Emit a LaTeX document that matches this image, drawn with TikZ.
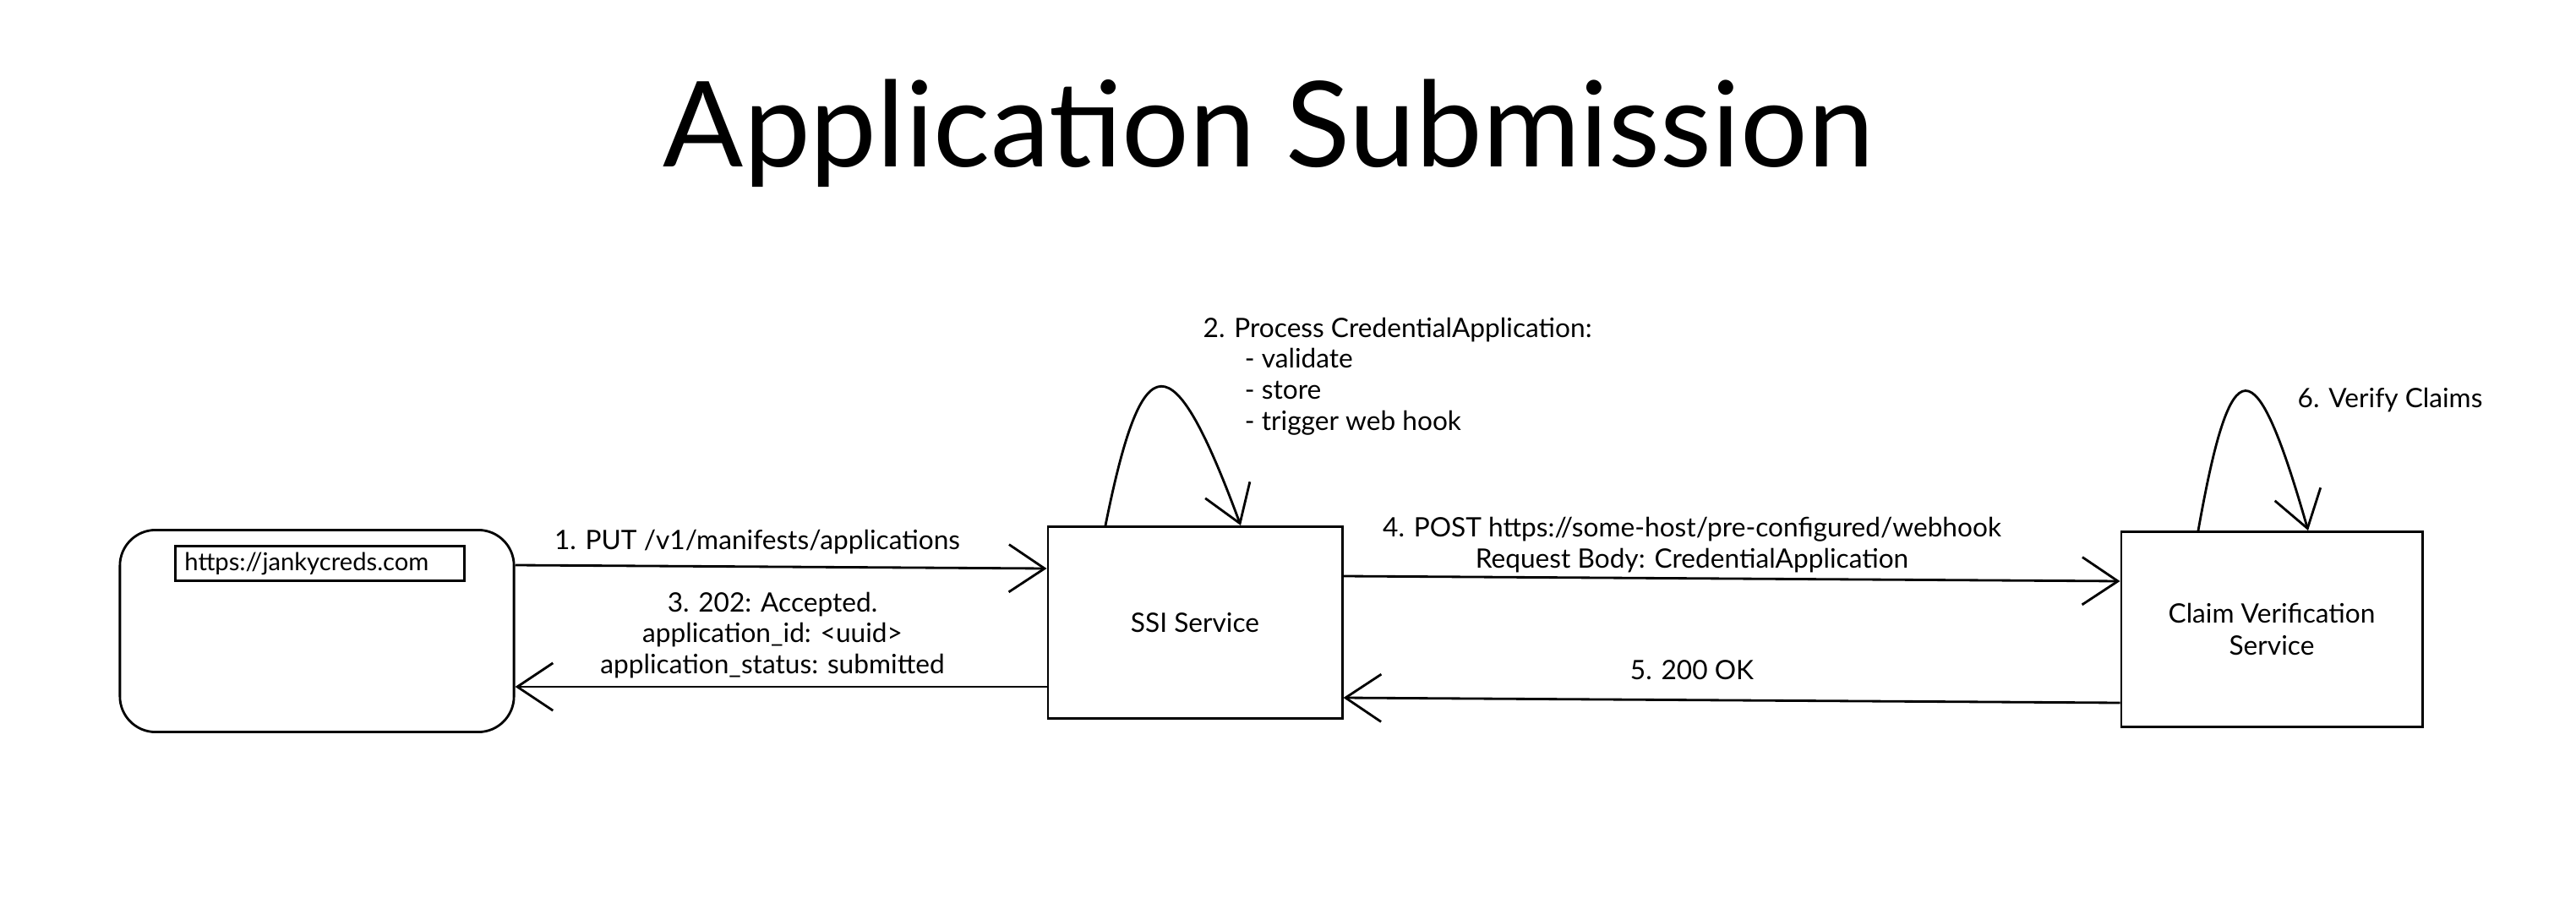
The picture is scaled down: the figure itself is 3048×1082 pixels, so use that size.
\documentclass[tikz,border=0pt]{standalone}
\usepackage{fontspec}
\setmainfont{Lato}
\usetikzlibrary{arrows.meta}
\begin{document}
\begin{tikzpicture}[x=0.01cm,y=-0.01cm,
  box/.style={draw, line width=0.8pt, inner sep=0pt, font=\fontsize{9}{11}\selectfont, align=center},
  conn/.style={draw, line width=0.8pt, -{Straight Barb[length=12pt,width=16pt,line width=0.8pt]}},
  lbl/.style={font=\fontsize{9}{10.5}\selectfont, align=center, inner sep=0pt}]
\useasboundingbox (0,0) rectangle (3048,1082);
\fill[white] (0,0) rectangle (3048,1082);
% title
\node[inner sep=0pt, font=\fontsize{40}{46}\selectfont] (title) at (1501,158) {Application Submission};
% nodes
\node[box, rounded corners=12pt, minimum width=4.66cm, minimum height=2.39cm] (br) at (375,747) {};
\node[box, anchor=west, minimum width=3.42cm, minimum height=0.41cm, text width=3.2cm, align=left, font=\fontsize{8.3}{9}\selectfont] (url) at (206,667) {https://jankycreds.com};
\node[box, minimum width=3.48cm, minimum height=2.27cm] (ssi) at (1414,737) {SSI Service};
\node[box, minimum width=3.56cm, minimum height=2.31cm] (cv) at (2688,745) {Claim Verification\\Service};
% connectors
\draw[conn] (br.east |- 0,669) -- (ssi.west |- 0,673);
\draw[conn] (ssi.west |- 0,813) -- (br.east |- 0,813);
\draw[conn] (ssi.east |- 0,682) -- (cv.west |- 0,688);
\draw[conn] (cv.west |- 0,832) -- (ssi.east |- 0,826);
\draw[conn] (ssi.north -| 1308,0) .. controls (1352,403) and (1387,403) .. (ssi.north -| 1468,0);
\draw[conn] (cv.north -| 2601,0) .. controls (2640,408) and (2668,408) .. (cv.north -| 2731,0);
% labels
\node[lbl] (l1) at (896,642) {1. PUT /v1/manifests/applications};
\node[lbl] (l3) at (914,752) {3. 202: Accepted.\\application\_id: <uuid>\\application\_status: submitted};
\node[lbl] (l4) at (2002,645) {4. POST https://some-host/pre-configured/webhook\\Request Body: CredentialApplication};
\node[lbl] (l5) at (2002,793) {5. 200 OK};
\node[lbl, anchor=north west, align=left] (l2) at (1423,375) {2. Process CredentialApplication:\\\hspace*{14pt}- validate\\\hspace*{14pt}- store\\\hspace*{14pt}- trigger web hook};
\node[lbl, anchor=west] (l6) at (2718,474) {6. Verify Claims};
\end{tikzpicture}
\end{document}
